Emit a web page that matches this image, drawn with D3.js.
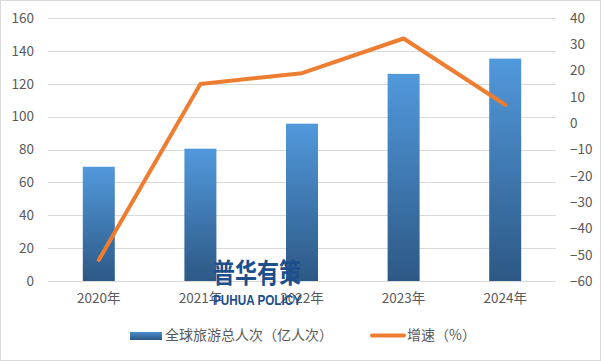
<!DOCTYPE html>
<html>
<head>
<meta charset="utf-8">
<script src="https://cdn.jsdelivr.net/npm/d3@7"></script>
<style>
  body { margin: 0; background: #fff; }
  svg { display: block; }
  text { font-family: "Noto Sans CJK SC", "Noto Sans", sans-serif; }
</style>
</head>
<body>
<svg width="601" height="361"></svg>
<script>
var years = ["2020年", "2021年", "2022年", "2023年", "2024年"];
var visitors = [69.5, 80.5, 95.7, 126, 135.3]; // 全球旅游总人次（亿人次）
var growth = [-52, 14.9, 19, 32.2, 7]; // 增速（%）
var leftTicks = [0, 20, 40, 60, 80, 100, 120, 140, 160];
var rightTicks = [-60, -50, -40, -30, -20, -10, 0, 10, 20, 30, 40];

var svg = d3.select("svg"),
  margin = { top: 18, right: 45, bottom: 80, left: 48 },
  width = +svg.attr("width") - margin.left - margin.right,
  height = +svg.attr("height") - margin.top - margin.bottom;

// outer border
svg.append("rect")
  .attr("x", 0.5).attr("y", 0.5)
  .attr("width", 600).attr("height", 360)
  .attr("fill", "#fff")
  .attr("stroke", "#d9d9d9");

var defs = svg.append("defs");
var grad = defs.append("linearGradient")
  .attr("id", "barGrad")
  .attr("x1", 0).attr("y1", 0).attr("x2", 0).attr("y2", 1);
grad.append("stop").attr("offset", "0%").attr("stop-color", "#5199dc");
grad.append("stop").attr("offset", "100%").attr("stop-color", "#2d5885");

var legGrad = defs.append("linearGradient")
  .attr("id", "legGrad")
  .attr("x1", 0).attr("y1", 0).attr("x2", 0).attr("y2", 1);
legGrad.append("stop").attr("offset", "0%").attr("stop-color", "#4a8ccb");
legGrad.append("stop").attr("offset", "100%").attr("stop-color", "#2d5885");

var x = d3.scaleBand()
  .domain(years)
  .range([0, width])
  .paddingInner(0.685)
  .paddingOuter(0.3425);
var y = d3.scaleLinear().domain([0, 160]).range([height, 0]);
var y2 = d3.scaleLinear().domain([-60, 40]).range([height, 0]);

var g = svg.append("g")
  .attr("transform", "translate(" + margin.left + "," + margin.top + ")");

// gridlines
g.append("g")
  .selectAll("line")
  .data(leftTicks)
  .enter()
  .append("line")
  .attr("x1", 0)
  .attr("x2", width)
  .attr("y1", function(d) { return Math.round(y(d)) + 0.5; })
  .attr("y2", function(d) { return Math.round(y(d)) + 0.5; })
  .attr("stroke", "#d9d9d9")
  .attr("stroke-width", 1);

// left axis
var axL = g.append("g")
  .call(d3.axisLeft(y).tickValues(leftTicks).tickSize(0).tickPadding(14));
axL.select(".domain").remove();
axL.selectAll("text").attr("fill", "#595959").style("font-size", "13.5px");

// right axis
var axR = g.append("g")
  .attr("transform", "translate(" + width + ",0)")
  .call(d3.axisRight(y2).tickValues(rightTicks).tickSize(0).tickPadding(14));
axR.select(".domain").remove();
axR.selectAll("text").attr("fill", "#595959").style("font-size", "13.5px");

// bottom axis labels
var axB = g.append("g")
  .attr("transform", "translate(0," + height + ")")
  .call(d3.axisBottom(x).tickSize(0).tickPadding(12));
axB.select(".domain").remove();
axB.selectAll("text").attr("fill", "#595959").style("font-size", "13.5px");

// bars
g.selectAll(".bar")
  .data(visitors)
  .enter()
  .append("rect")
  .attr("class", "bar")
  .attr("x", function(d, i) { return x(years[i]); })
  .attr("y", function(d) { return y(d); })
  .attr("width", x.bandwidth())
  .attr("height", function(d) { return height - y(d); })
  .attr("fill", "url(#barGrad)");

// growth line
var line = d3.line()
  .x(function(d, i) { return x(years[i]) + x.bandwidth() / 2; })
  .y(function(d) { return y2(d); });

g.append("path")
  .datum(growth)
  .attr("d", line)
  .attr("fill", "none")
  .attr("stroke", "#ed7d31")
  .attr("stroke-width", 4)
  .attr("stroke-linecap", "round")
  .attr("stroke-linejoin", "round");

// watermark
svg.append("text")
  .attr("x", 213).attr("y", 283)
  .attr("textLength", 88)
  .attr("lengthAdjust", "spacingAndGlyphs")
  .attr("fill", "#1d4f8c")
  .style("font-size", "27px")
  .style("font-weight", "bold")
  .text("普华有策");
svg.append("text")
  .attr("x", 213).attr("y", 305)
  .attr("textLength", 88)
  .attr("lengthAdjust", "spacingAndGlyphs")
  .attr("fill", "#1d4f8c")
  .style("font-size", "15px")
  .style("font-weight", "bold")
  .style("font-family", "'Liberation Sans Narrow', 'Liberation Sans', sans-serif")
  .text("PUHUA POLICY");

// legend
var legend = svg.append("g");
legend.append("rect")
  .attr("x", 130).attr("y", 332)
  .attr("width", 32).attr("height", 8)
  .attr("fill", "url(#legGrad)");
legend.append("text")
  .attr("x", 165).attr("y", 335)
  .attr("dy", "0.35em")
  .attr("fill", "#595959")
  .style("font-size", "14px")
  .text("全球旅游总人次（亿人次）");
legend.append("line")
  .attr("x1", 372).attr("x2", 404)
  .attr("y1", 335.5).attr("y2", 335.5)
  .attr("stroke", "#ed7d31")
  .attr("stroke-width", 4)
  .attr("stroke-linecap", "round");
legend.append("text")
  .attr("x", 407).attr("y", 335)
  .attr("dy", "0.35em")
  .attr("fill", "#595959")
  .style("font-size", "14px")
  .text("增速（%）");
</script>
</body>
</html>
